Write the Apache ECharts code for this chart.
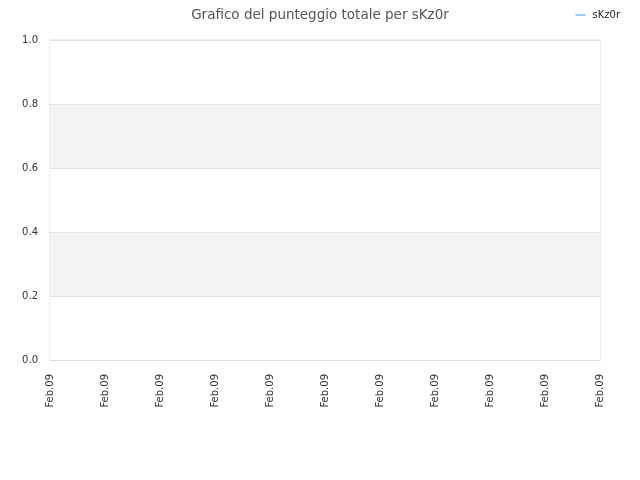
<!DOCTYPE html>
<html>
<head>
<meta charset="utf-8">
<script src="https://cdn.jsdelivr.net/npm/echarts@6/dist/echarts.min.js"></script>
<style>
  html, body { margin: 0; padding: 0; background: #fff; }
  #chart { width: 640px; height: 480px; }
</style>
</head>
<body>
<div id="chart"></div>
<script>
const chartDom = document.getElementById("chart");
let myChart = echarts.init(chartDom);

/** chart data */
const dates = ["Feb.09", "Feb.09", "Feb.09", "Feb.09", "Feb.09", "Feb.09",
  "Feb.09", "Feb.09", "Feb.09", "Feb.09", "Feb.09"];
const scores = [null, null, null, null, null, null, null, null, null, null, null];
const seriesName = "sKz0r";

let option = {
  animation: false,
  title: {
    text: "Grafico del punteggio totale per sKz0r",
    left: "center",
    top: 3,
    textStyle: {
      fontFamily: "DejaVu Sans",
      fontSize: 13.5,
      fontWeight: "normal",
      color: "#555"
    }
  },
  legend: {
    right: 15,
    top: 5,
    itemWidth: 10,
    itemHeight: 2,
    itemGap: 6,
    icon: "rect",
    textStyle: { fontFamily: "DejaVu Sans", fontSize: 10, color: "#222", padding: [0, 0, 0, 2] },
    data: [seriesName]
  },
  grid: {
    left: 50,
    right: 40,
    top: 40,
    bottom: 120,
    show: true,
    borderColor: "#ddd",
    borderWidth: 1
  },
  xAxis: {
    type: "category",
    boundaryGap: false,
    data: dates,
    axisLine: { lineStyle: { color: "#ddd" } },
    axisTick: { show: false },
    axisLabel: {
      rotate: 90,
      interval: 0,
      margin: 14,
      fontFamily: "DejaVu Sans",
      fontSize: 10,
      color: "#333"
    }
  },
  yAxis: {
    type: "value",
    min: 0,
    max: 1,
    interval: 0.2,
    axisLine: { show: false },
    axisTick: { show: false },
    axisLabel: {
      margin: 12,
      fontFamily: "DejaVu Sans",
      fontSize: 10,
      color: "#333",
      formatter: (v) => v.toFixed(1)
    },
    splitLine: { lineStyle: { color: "#e4e4e4" } },
    splitArea: { show: true, areaStyle: { color: ["#ffffff", "#f3f3f3"] } }
  },
  series: [
    {
      name: seriesName,
      type: "line",
      symbol: "none",
      itemStyle: { color: "#9ec9f5" },
      lineStyle: { color: "#9ec9f5", width: 2 },
      data: scores
    }
  ]
};

option && myChart.setOption(option);
</script>
</body>
</html>
